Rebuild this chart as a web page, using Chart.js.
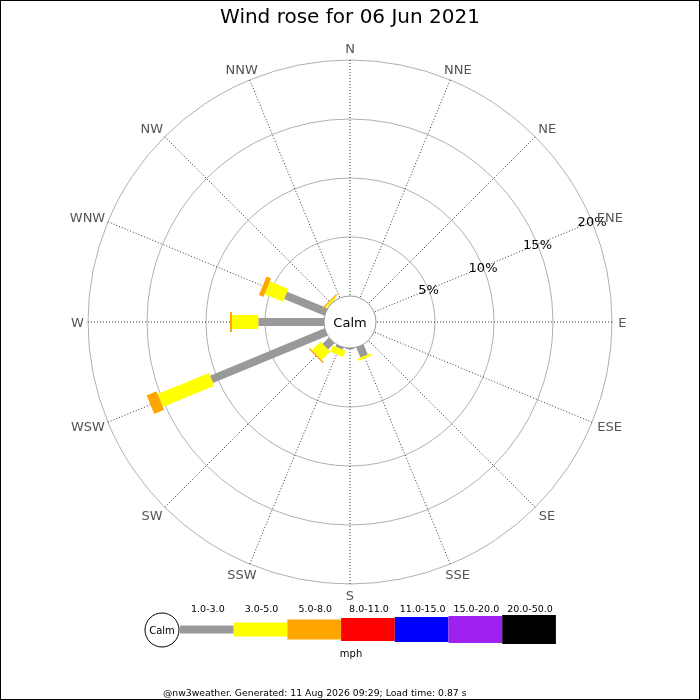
<!DOCTYPE html>
<html>
<head>
<meta charset="utf-8">
<title>Wind rose</title>
<script src="https://cdn.jsdelivr.net/npm/chart.js@4.4.0/dist/chart.umd.min.js"></script>
<style>
  html, body { margin: 0; padding: 0; background: #fff; }
  #wrap { width: 700px; height: 700px; }
</style>
</head>
<body>
<div id="wrap"><canvas id="windRose" width="700" height="700"></canvas></div>
<script>
// Compass sectors, clockwise from north
const directions = ['N', 'NNE', 'NE', 'ENE', 'E', 'ESE', 'SE', 'SSE', 'S', 'SSW', 'SW', 'WSW', 'W', 'WNW', 'NW', 'NNW'];

// % of the day spent in each speed band (mph), per direction
const speed1to3   = [0, 0, 0, 0, 0, 0, 0, 0.93, 0.1, 0.2, 0.76, 10.5, 5.57, 3.7, 0.05, 0];
const speed3to5   = [0, 0, 0, 0, 0, 0, 0, 0.2, 0, 0.56, 1.0, 4.7, 2.23, 1.7, 0.15, 0];
const speed5to8   = [0, 0, 0, 0, 0, 0, 0, 0, 0, 0, 0.12, 0.9, 0.17, 0.4, 0.1, 0];
const speed8to11  = [0, 0, 0, 0, 0, 0, 0, 0, 0, 0, 0, 0, 0, 0, 0, 0];
const speed11to15 = [0, 0, 0, 0, 0, 0, 0, 0, 0, 0, 0, 0, 0, 0, 0, 0];
const speed15to20 = [0, 0, 0, 0, 0, 0, 0, 0, 0, 0, 0, 0, 0, 0, 0, 0];
const speed20to50 = [0, 0, 0, 0, 0, 0, 0, 0, 0, 0, 0, 0, 0, 0, 0, 0];

const speedLabels = ['1.0-3.0', '3.0-5.0', '5.0-8.0', '8.0-11.0', '11.0-15.0', '15.0-20.0', '20.0-50.0'];
const ringTicks = [5, 10, 15, 20];

const bandSeries = [speed1to3, speed3to5, speed5to8, speed8to11, speed11to15, speed15to20, speed20to50];
const bandColours = ['#999999', '#ffff00', '#ffa500', '#ff0000', '#0000ff', '#a020f0', '#000000'];
const bandWidths = [8, 14, 20, 23, 25, 27, 29]; // bar thickness in px

const FONT = 'DejaVu Sans';

// draws the stacked spokes, calm circle, labels and the key
const roseExtras = {
    id: 'roseExtras',
    afterDatasetsDraw(chart) {
        const ctx = chart.ctx;
        const r = chart.scales.r;

        // calm circle
        const calmR = r.getDistanceFromCenterForValue(0);
        ctx.save();
        ctx.beginPath();
        ctx.arc(r.xCenter, r.yCenter, calmR, 0, Math.PI * 2);
        ctx.fillStyle = '#fff';
        ctx.fill();
        ctx.strokeStyle = '#999';
        ctx.lineWidth = 1;
        ctx.stroke();

        // stacked bars along each spoke
        ctx.lineCap = 'butt';
        directions.forEach((d, i) => {
            let cum = 0;
            bandSeries.forEach((series, b) => {
                const v = series[i];
                if (!v) return;
                const p0 = r.getPointPositionForValue(i, cum);
                const p1 = r.getPointPositionForValue(i, cum + v);
                ctx.beginPath();
                ctx.moveTo(p0.x, p0.y);
                ctx.lineTo(p1.x, p1.y);
                ctx.strokeStyle = bandColours[b];
                ctx.lineWidth = bandWidths[b];
                ctx.stroke();
                cum += v;
            });
        });

        ctx.fillStyle = '#000';
        ctx.textAlign = 'center';
        ctx.textBaseline = 'alphabetic';
        ctx.font = '13px "' + FONT + '"';
        const capHalf = 4.7;
        ctx.fillText('Calm', r.xCenter, r.yCenter + capHalf);

        // ring labels along the ENE spoke
        ringTicks.forEach(v => {
            const p = r.getPointPositionForValue(3, v);
            ctx.fillText(v + '%', p.x, p.y + capHalf);
        });

        // compass labels
        ctx.fillStyle = '#555';
        directions.forEach((d, i) => {
            const a = r.getIndexAngle(i);
            const s = Math.sin(a);
            const hw = ctx.measureText(d).width / 2;
            let p, shift;
            if (Math.abs(Math.cos(a)) < 0.01) {
                p = r.getPointPosition(i, r.drawingArea + 10 + hw * 0.1);
                shift = 0;
            } else {
                p = r.getPointPosition(i, r.drawingArea + 11.5);
                shift = 0.6 * hw * s;
            }
            ctx.fillText(d, p.x + shift, p.y + capHalf);
        });
        ctx.restore();
    },
    afterDraw(chart) {
        const ctx = chart.ctx;
        ctx.save();

        // key
        const keyY = 629.5;
        ctx.beginPath();
        ctx.arc(162, 630, 17, 0, Math.PI * 2);
        ctx.fillStyle = '#fff';
        ctx.fill();
        ctx.strokeStyle = '#000';
        ctx.lineWidth = 1;
        ctx.stroke();
        ctx.fillStyle = '#000';
        ctx.textAlign = 'center';
        ctx.textBaseline = 'middle';
        ctx.font = '10px "' + FONT + '"';
        ctx.fillText('Calm', 162, 631);

        const segW = 53.7;
        speedLabels.forEach((lab, b) => {
            const x = 180 + b * segW;
            const h = bandWidths[b];
            ctx.fillStyle = bandColours[b];
            ctx.fillRect(x, keyY - h / 2, segW, h);
            ctx.fillStyle = '#000';
            ctx.textBaseline = 'alphabetic';
            ctx.font = '9.5px "' + FONT + '"';
            ctx.fillText(lab, x + segW / 2 + 1, 611.5);
        });
        ctx.font = '10px "' + FONT + '"';
        ctx.fillText('mph', 351, 657);

        // footer
        ctx.textAlign = 'left';
        ctx.font = '9.3px "' + FONT + '"';
        ctx.fillText('@nw3weather. Generated: 11 Aug 2026 09:29; Load time: 0.87 s', 163, 696);

        // frame
        ctx.strokeStyle = '#000';
        ctx.strokeRect(0.5, 0.5, 699, 699);
        ctx.restore();
    }
};

const roseCanvas = document.getElementById('windRose');
new Chart(roseCanvas.getContext('2d'), {
    type: 'radar',
    data: {
        labels: directions,
        datasets: bandSeries.map((series, b) => ({
            label: speedLabels[b],
            data: series,
            showLine: false,
            fill: false,
            borderWidth: 0,
            pointRadius: 0,
            pointHoverRadius: 0
        }))
    },
    options: {
        responsive: false,
        animation: false,
        devicePixelRatio: 1,
        events: [],
        plugins: {
            legend: { display: false },
            tooltip: { enabled: false },
            title: {
                display: true,
                text: 'Wind rose for 06 Jun 2021',
                color: '#000',
                font: { family: FONT, size: 20, weight: 'normal' },
                padding: { top: 6, bottom: 0 }
            }
        },
        scales: {
            r: {
                min: -2.2034,
                max: 20,
                afterBuildTicks: scale => {
                    scale.ticks = [scale.min].concat(ringTicks).map(v => ({ value: v }));
                },
                afterFit: scale => {
                    scale.xCenter = 350;
                    scale.yCenter = 322;
                    scale.drawingArea = 262;
                },
                ticks: { display: false },
                pointLabels: { display: false },
                grid: { circular: true, color: '#b0b0b0', lineWidth: 1 },
                angleLines: { color: '#333', lineWidth: 1, borderDash: [1, 2] }
            }
        }
    },
    plugins: [roseExtras]
});
</script>
</body>
</html>
